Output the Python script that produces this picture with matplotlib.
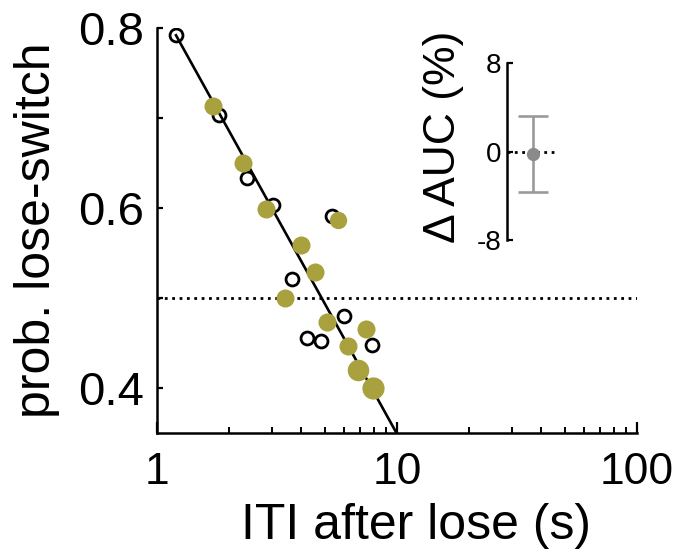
"""
Lose-switch probability vs ITI after lose, with Delta AUC inset
"""
import matplotlib
matplotlib.use("Agg")
import matplotlib.pyplot as plt
import numpy as np

plt.rcParams["font.family"] = ["Liberation Sans", "DejaVu Sans"]

# ==========================================================
# Data
# ==========================================================
# open circles (black)
open_iti = [1.20, 1.81, 2.37, 3.04, 5.36, 3.65, 6.01, 4.22, 4.82, 7.87]
open_prob = [0.792, 0.703, 0.633, 0.603, 0.591, 0.521, 0.480, 0.456, 0.452, 0.448]

# filled circles (olive)
fill_iti = [1.71, 2.28, 2.85, 5.68, 3.98, 4.55, 3.41, 5.11, 7.43, 6.25, 6.88, 7.94]
fill_prob = [0.713, 0.650, 0.599, 0.587, 0.559, 0.529, 0.500, 0.473, 0.466, 0.447, 0.420, 0.400]
fill_size = [13, 13, 13, 12.5, 13, 13, 13, 13, 13, 13, 15.5, 16]

# regression line: prob = a + b * log10(ITI)
fit_a = 0.830
fit_b = -0.481
fit_range = [1.2, 10.0]

chance = 0.5

y_ticks = [0.4, 0.5, 0.6, 0.7, 0.8]
y_ticklabels = ["0.4", "", "0.6", "", "0.8"]
x_ticks = [1, 10, 100]
x_ticklabels = ["1", "10", "100"]

# inset: delta AUC
auc_mean = -0.2
auc_err_low = 3.5
auc_err_high = 3.4
auc_ticks = [-8, 0, 8]

olive = "#a9a13d"

# ==========================================================
# Figure
# ==========================================================
W, H = 677, 552
fig = plt.figure(figsize=(W / 100, H / 100), dpi=100)

ax = fig.add_axes([157 / W, (H - 433) / H, 480 / W, 405 / H])

# chance line
ax.axhline(chance, color="black", linestyle=":", linewidth=2)

ax.plot(open_iti, open_prob, "o", markersize=9.3, markerfacecolor="white",
        markeredgecolor="black", markeredgewidth=2.0, zorder=3)

xs = np.logspace(np.log10(fit_range[0]), np.log10(fit_range[1]), 50)
ax.plot(xs, fit_a + fit_b * np.log10(xs), color="black", linewidth=1.9, zorder=4)

for xi, yi, si in zip(fill_iti, fill_prob, fill_size):
    ax.plot(xi, yi, "o", markersize=si, color=olive, markeredgewidth=0, zorder=5)

ax.set_xscale("log")
ax.set_xlim(1, 100)
ax.set_ylim(0.35, 0.8)
ax.set_xticks(x_ticks)
ax.set_xticklabels(x_ticklabels)
ax.set_yticks(y_ticks)
ax.set_yticklabels(y_ticklabels)

for side in ["top", "right"]:
    ax.spines[side].set_visible(False)
for side in ["left", "bottom"]:
    ax.spines[side].set_linewidth(1.8)

ax.tick_params(axis="both", which="major", direction="in", width=1.6)
ax.tick_params(axis="y", length=4, pad=9, labelsize=34)
ax.tick_params(axis="x", which="major", length=8, pad=14, labelsize=32)
ax.tick_params(axis="x", which="minor", direction="in", length=4.5, width=1.4)

ax.set_xlabel("ITI after lose (s)", fontsize=36, labelpad=7)
ax.xaxis.label.set_x(0.54)
ax.set_ylabel("prob. lose-switch", fontsize=36, labelpad=13)

# ==========================================================
# Inset
# ==========================================================
ins = fig.add_axes([507 / W, (H - 240) / H, 49 / W, 177 / H])
ins.axhline(0, color="black", linestyle=":", linewidth=2)
ins.errorbar([0.53], [auc_mean], yerr=[[auc_err_low], [auc_err_high]],
             fmt="o", color="#9a9a9a", markersize=8.5, markerfacecolor="#8a8a8a",
             markeredgecolor="#8a8a8a", elinewidth=1.9, capsize=11, capthick=1.9)
ins.set_xlim(0, 1)
ins.set_ylim(-8, 8)
ins.set_yticks(auc_ticks)
ins.set_yticklabels([str(t) for t in auc_ticks])
ins.set_xticks([])
for side in ["top", "right", "bottom"]:
    ins.spines[side].set_visible(False)
ins.spines["left"].set_linewidth(1.8)
ins.tick_params(axis="y", direction="in", length=4, width=1.6, labelsize=20, pad=4)
ins.patch.set_alpha(0)

fig.text(443 / W, 1 - 137 / H, "\u0394 AUC (%)", rotation=90, fontsize=32,
         ha="center", va="center")

fig.savefig("out.png", dpi=100)
